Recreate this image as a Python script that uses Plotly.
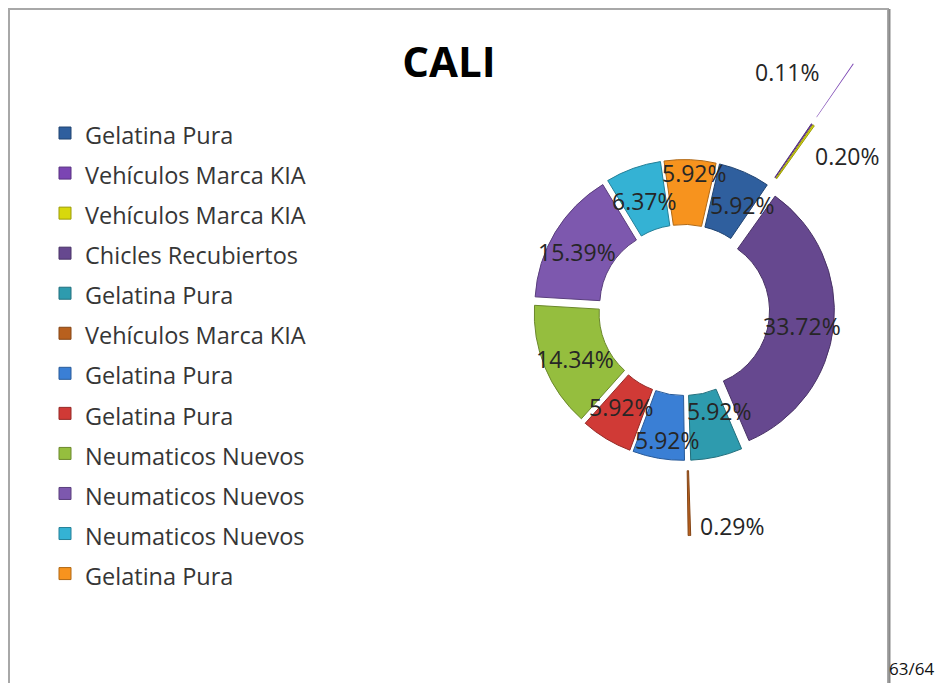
import math
import plotly.graph_objects as go

# ---------------- data ----------------
labels = ["Gelatina Pura", "Vehículos Marca KIA", "Vehículos Marca KIA",
          "Chicles Recubiertos", "Gelatina Pura", "Vehículos Marca KIA",
          "Gelatina Pura", "Gelatina Pura", "Neumaticos Nuevos",
          "Neumaticos Nuevos", "Neumaticos Nuevos", "Gelatina Pura"]
values = [5.92, 0.11, 0.20, 33.72, 5.92, 0.29, 5.92, 5.92, 14.34, 15.39, 6.37, 5.92]
title_text = "CALI"
page_text = "63/64"

# ---------------- style ----------------
colors = ["#2F5F9E", "#7B45B3", "#D8D80C", "#66488F", "#2E9BAE", "#B8601E",
          "#3A7FD5", "#D03A36", "#95BE3E", "#7D58AE", "#34B2D4", "#F7931E"]
pulls = [0.067, 1.12, 0.60, 0.067, 0.067, 0.60, 0.067, 0.067, 0.067, 0.067, 0.067, 0.067]
far_idx = 1            # slice pulled too far to fit the main trace's domain
near_pull = 0.60       # pull used for that slice inside the main trace
# label nudges (px) to mimic the original label placement
nudges = [(11, 3), (-47, -18), (53, 4), (1, 3), (10, -14), (44, 23),
          (4, 14), (-2, -4), (0, 4), (-6, 3), (0, 2), (6, -19)]

W, H = 938, 683
cx, cy = 684, 310      # donut centre (px from top-left)
r_out = 141            # outer radius (px)
hole = 0.54
rotation = 13
FONT = "Open Sans"

total = sum(values)


def darker(hexc, f=0.72):
    r, g, b = (int(hexc[k:k + 2], 16) for k in (1, 3, 5))
    return "#%02x%02x%02x" % (int(r * f), int(g * f), int(b * f))


def bisector(i):
    before = sum(values[:i])
    return math.radians(rotation + (before + values[i] / 2) / total * 360)


def dom(xc, yc, half):
    return dict(x=[(xc - half) / W, (xc + half) / W],
                y=[(H - yc - half) / H, (H - yc + half) / H])


# pie merges equal labels, so give each legend entry a distinct (but
# visually identical) font-size spelling: 23.5px, 23.50px, 23.500px ...
uniq = ["<span style='font-size:23.5%spx'>%s</span>" % ("0" * i, lab)
        for i, lab in enumerate(labels)]

main_pulls = [near_pull if i == far_idx else p for i, p in enumerate(pulls)]
max_main = max(main_pulls)
line_c = [darker(c) for c in colors]

fig = go.Figure()
fig.add_trace(go.Pie(
    labels=uniq, values=values, sort=False, direction="clockwise",
    rotation=rotation, hole=hole, pull=main_pulls, textinfo="none",
    marker=dict(colors=colors, line=dict(color=line_c, width=1)),
    domain=dom(cx, cy, r_out * (1 + max_main)), hoverinfo="skip",
    showlegend=True))

# overlay trace carrying the far-pulled slice, centred along its bisector
phi = bisector(far_idx)
d = pulls[far_idx] * r_out
ocx, ocy = cx + d * math.sin(phi), cy - d * math.cos(phi)
over_colors = [c if i == far_idx else "rgba(0,0,0,0)" for i, c in enumerate(colors)]
fig.add_trace(go.Pie(
    labels=uniq, values=values, sort=False, direction="clockwise",
    rotation=rotation, hole=hole, textinfo="none",
    marker=dict(colors=over_colors, line=dict(width=0)),
    domain=dom(ocx, ocy, r_out), hoverinfo="skip", showlegend=False))

# percentage labels, derived from the values
annotations = []
rm = r_out * (1 + hole) / 2
for i, v in enumerate(values):
    a = bisector(i)
    rr = rm + pulls[i] * r_out
    x = cx + rr * math.sin(a) + nudges[i][0]
    y = cy - rr * math.cos(a) + nudges[i][1]
    annotations.append(dict(x=x / W, y=1 - y / H, xref="paper", yref="paper",
                            text="%.2f%%" % v, showarrow=False,
                            xanchor="center", yanchor="middle",
                            font=dict(family=FONT, size=23, color="#262626")))
annotations.append(dict(x=936 / W, y=1 - 668 / H, xref="paper", yref="paper",
                        text=page_text, showarrow=False, xanchor="right",
                        yanchor="middle",
                        font=dict(family=FONT, size=17, color="#111111")))

shapes = [
    dict(type="rect", xref="paper", yref="paper", x0=9 / W, x1=888 / W,
         y0=-0.05, y1=1 - 9 / H, line=dict(color="#a8a8a8", width=2)),
    dict(type="line", xref="paper", yref="paper", x0=889.5 / W, x1=889.5 / W,
         y0=-0.05, y1=1 - 9 / H, line=dict(color="#8a8a8a", width=2)),
]

fig.update_layout(
    width=W, height=H, margin=dict(l=0, r=0, t=0, b=0),
    paper_bgcolor="white", plot_bgcolor="white",
    title=dict(text=title_text, x=449 / W, xanchor="center",
               y=1 - 62 / H, yanchor="middle",
               font=dict(family=FONT, size=42, color="black", weight=700)),
    legend=dict(x=45 / W, y=1 - 108 / H, xanchor="left", yanchor="top",
                font=dict(family=FONT, size=28.5, color="#363636"),
                bgcolor="rgba(0,0,0,0)", traceorder="normal"),
    annotations=annotations, shapes=shapes,
)

fig.write_html("out.html", config={"displayModeBar": False},
               post_script="document.body.style.margin='0';"
                           "document.body.style.overflow='hidden';")
